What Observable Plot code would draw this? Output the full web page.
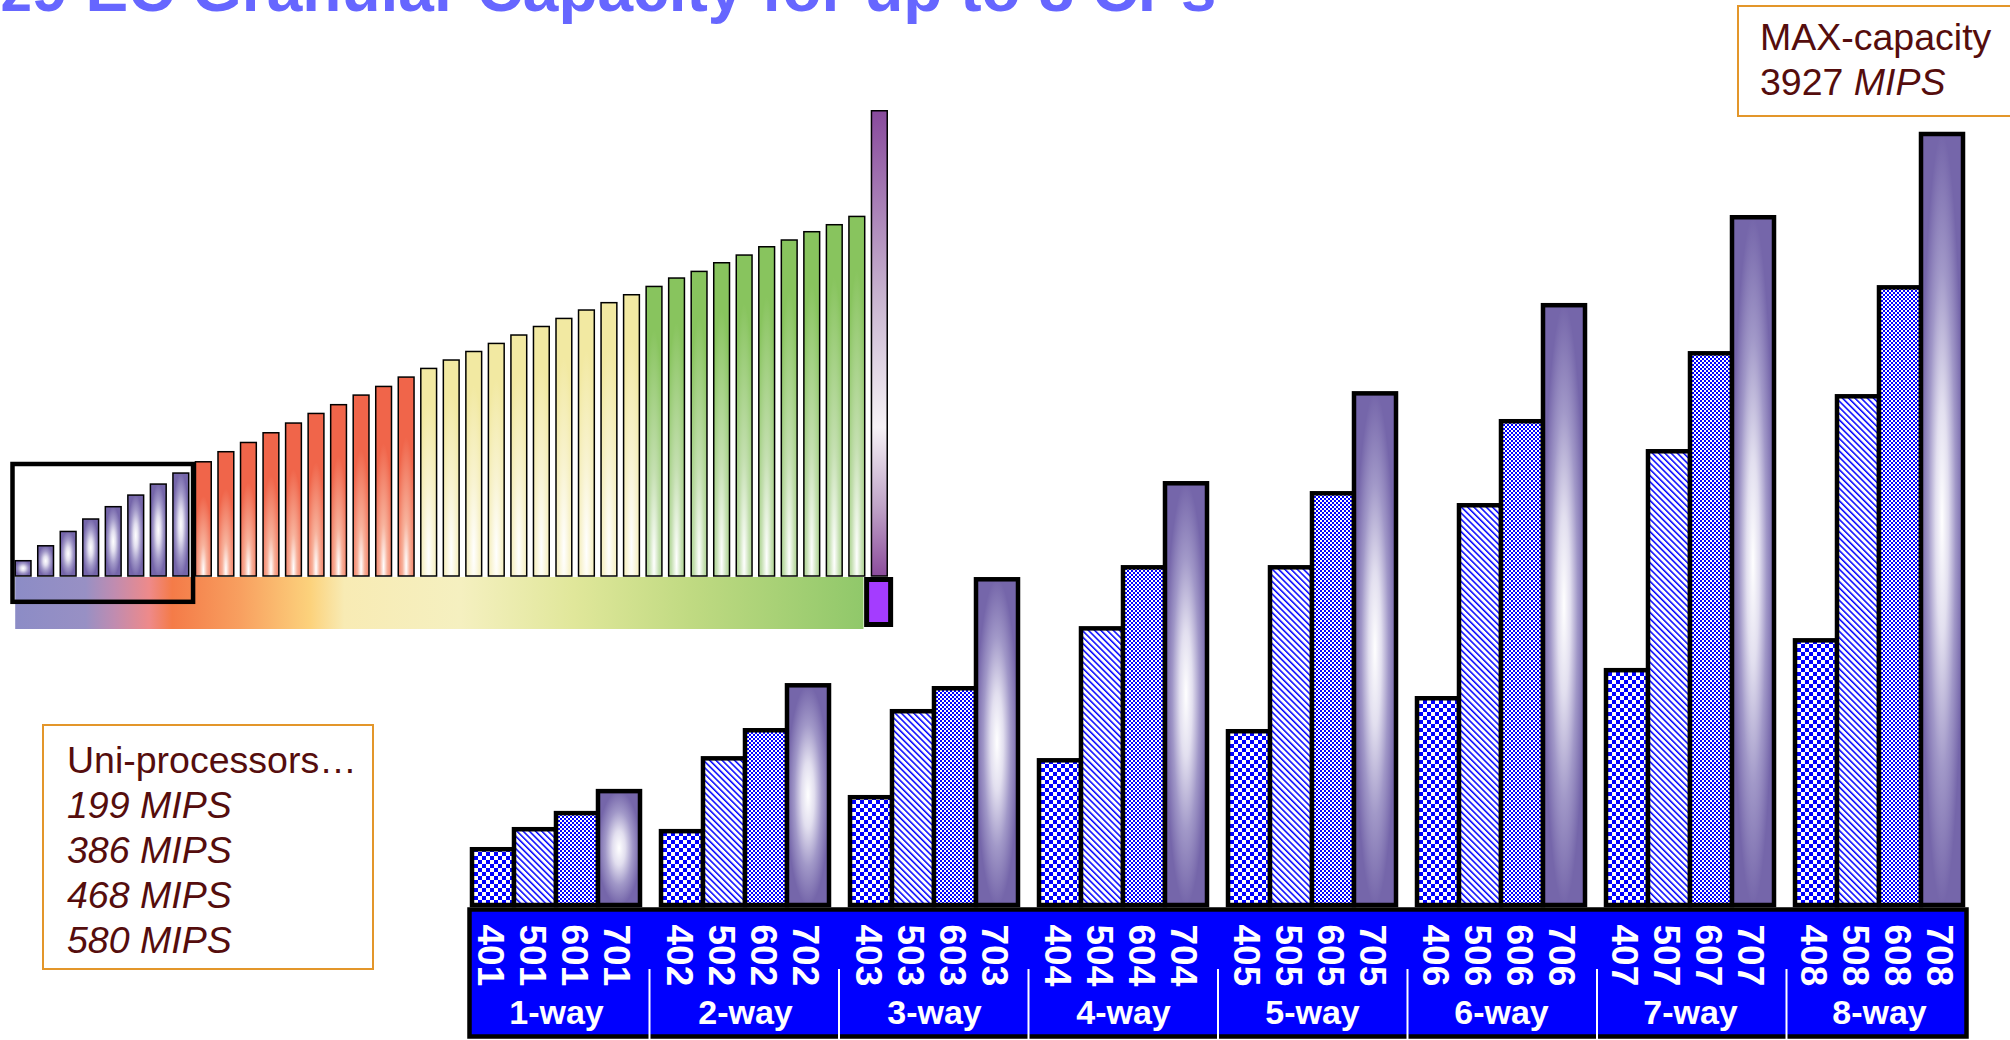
<!DOCTYPE html>
<html>
<head>
<meta charset="utf-8">
<script src="https://cdn.jsdelivr.net/npm/d3@7"></script>
<script src="https://cdn.jsdelivr.net/npm/@observablehq/plot@0.6"></script>
<style>
  html, body { margin: 0; padding: 0; background: #fff; overflow: hidden; }
  #stage { position: relative; width: 2010px; height: 1040px; overflow: hidden; background: #fff; }
  #stage > svg, #stage > .layer { position: absolute; left: 0; top: 0; }
  #title { position: absolute; left: 0; top: -43px; font: bold 64px "Liberation Sans", Arial, sans-serif; line-height: 64px; color: #6666ff; white-space: nowrap; }
  .note { position: absolute; box-sizing: border-box; background: #fff; border: 2px solid #e3962a; color: #550d0d; font: 37.5px/45px "Liberation Sans", Arial, sans-serif; white-space: nowrap; }
  .note i { font-style: italic; }
</style>
</head>
<body>
<div id="stage">
  <svg width="0" height="0" style="position:absolute">
    <defs>
      <pattern id="p4" width="8" height="8" patternUnits="userSpaceOnUse">
        <rect width="8" height="8" fill="#fff"/><rect width="4" height="4" fill="#0000ff"/><rect x="4" y="4" width="4" height="4" fill="#0000ff"/>
      </pattern>
      <pattern id="p5" width="4.4" height="4.4" patternUnits="userSpaceOnUse" patternTransform="rotate(-45)">
        <rect width="4.4" height="4.4" fill="#fff"/><rect width="1.5" height="4.4" fill="#0000ff"/>
      </pattern>
      <pattern id="p6" width="4" height="4" patternUnits="userSpaceOnUse">
        <rect width="4" height="4" fill="#fff"/><rect width="2" height="2" fill="#0000ff"/><rect x="2" y="2" width="2" height="2" fill="#0000ff"/>
      </pattern>
      <radialGradient id="g7" cx="0.5" cy="0.5" r="0.5">
        <stop offset="0" stop-color="#ffffff"/>
        <stop offset="0.3" stop-color="#e2dfef"/>
        <stop offset="0.65" stop-color="#a198c8"/>
        <stop offset="1" stop-color="#7566aa"/>
      </radialGradient>
      <radialGradient id="gO" cx="0.5" cy="0.95" r="0.65">
        <stop offset="0" stop-color="#ffffff"/>
        <stop offset="0.35" stop-color="#f7b29c"/>
        <stop offset="1" stop-color="#f0654a"/>
      </radialGradient>
      <radialGradient id="gY" cx="0.5" cy="0.9" r="0.75">
        <stop offset="0" stop-color="#ffffff"/>
        <stop offset="0.45" stop-color="#f8f3d0"/>
        <stop offset="1" stop-color="#f2e9a2"/>
      </radialGradient>
      <radialGradient id="gG" cx="0.5" cy="0.95" r="0.8">
        <stop offset="0" stop-color="#ffffff"/>
        <stop offset="0.4" stop-color="#c4dfb0"/>
        <stop offset="1" stop-color="#88c45e"/>
      </radialGradient>
      <linearGradient id="gT" x1="0" y1="0" x2="0" y2="1">
        <stop offset="0" stop-color="#884a9c"/>
        <stop offset="0.4" stop-color="#c8b4d0"/>
        <stop offset="0.68" stop-color="#f6f2f6"/>
        <stop offset="0.85" stop-color="#c0a4c8"/>
        <stop offset="1" stop-color="#8c4c9c"/>
      </linearGradient>
      <linearGradient id="gStrip" x1="0" y1="0" x2="1" y2="0">
        <stop offset="0" stop-color="#8c8cc6"/>
        <stop offset="0.083" stop-color="#9890c4"/>
        <stop offset="0.117" stop-color="#c08cb0"/>
        <stop offset="0.158" stop-color="#ee8a8a"/>
        <stop offset="0.185" stop-color="#f47b48"/>
        <stop offset="0.266" stop-color="#f8a060"/>
        <stop offset="0.348" stop-color="#fcd27c"/>
        <stop offset="0.388" stop-color="#f8ebb4"/>
        <stop offset="0.524" stop-color="#f5f0c0"/>
        <stop offset="0.659" stop-color="#e0e79a"/>
        <stop offset="0.795" stop-color="#c0da82"/>
        <stop offset="1" stop-color="#90c86a"/>
      </linearGradient>
    </defs>
  </svg>
</div>
<script>
// ---------- data ----------
const groups = ["1-way", "2-way", "3-way", "4-way", "5-way", "6-way", "7-way", "8-way"];
const series = ["4", "5", "6", "7"];
const models = [
  ["401", "501", "601", "701"],
  ["402", "502", "602", "702"],
  ["403", "503", "603", "703"],
  ["404", "504", "604", "704"],
  ["405", "505", "605", "705"],
  ["406", "506", "606", "706"],
  ["407", "507", "607", "707"],
  ["408", "508", "608", "708"]
];
const mips4xx = [284, 376, 549, 737, 885, 1053, 1196, 1348];
const mips5xx = [386, 747, 987, 1409, 1720, 2036, 2311, 2591];
const mips6xx = [468, 890, 1104, 1720, 2097, 2464, 2810, 3146];
const mips7xx = [580, 1119, 1659, 2148, 2606, 3055, 3503, 3927];
const maxMips = 3927;

// small staircase of all capacity settings
const smallTiers = [["uni", 8], ["orange", 10], ["yellow", 10], ["green", 10], ["max", 1]];
const smallValues = [
  129, 255, 376, 481, 585, 683, 776, 869,
  964, 1049, 1127, 1209, 1291, 1372, 1446, 1527, 1600, 1679,
  1752, 1823, 1895, 1963, 2034, 2106, 2174, 2245, 2307, 2374,
  2444, 2515, 2571, 2644, 2709, 2779, 2836, 2906, 2965, 3035,
  3927
];

// ---------- tables ----------
const bySeries = [mips4xx, mips5xx, mips6xx, mips7xx];
const mainData = groups.flatMap((g, gi) => series.map((s, si) => ({
  group: g, series: s, code: models[gi][si], value: bySeries[si][gi]
})));
const tierOf = smallTiers.flatMap(([t, n]) => Array(n).fill(t));
const smallData = smallValues.map((v, i) => ({i, j: i + 1, tier: tierOf[i], value: v}));

// ---------- styles ----------
const seriesFill = {"4": "url(#p4)", "5": "url(#p5)", "6": "url(#p6)", "7": "url(#g7)"};
const tierFill = {uni: "url(#g7)", orange: "url(#gO)", yellow: "url(#gY)", green: "url(#gG)", max: "url(#gT)"};
const narrow = "'Liberation Sans Narrow', 'Arial Narrow', 'Liberation Sans', Arial, sans-serif";
const W = 2010, H = 1040;
const stage = document.getElementById("stage");

// band under the bars (axis strip)
const band = Plot.plot({
  width: W, height: H,
  marginLeft: 459.5, marginRight: 34.5, marginTop: 909, marginBottom: 4,
  x: {domain: [0, groups.length], axis: null},
  style: {background: "transparent", overflow: "visible"},
  marks: [
    Plot.frame({fill: "#0000ff", stroke: "black", strokeWidth: 4.5, insetLeft: 9.5, insetRight: 9.5}),
    Plot.ruleX(d3.range(1, groups.length), {stroke: "white", strokeWidth: 2, insetTop: 60, insetBottom: -4})
  ]
});
stage.appendChild(band);

// main grouped bars
const main = Plot.plot({
  width: W, height: H,
  marginLeft: 469, marginRight: 44, marginTop: 0, marginBottom: 0,
  fx: {domain: groups, paddingInner: 0.1, paddingOuter: 0, axis: null, label: null},
  x: {domain: series, padding: 0, axis: null},
  y: {domain: [0, maxMips], range: [905, 134], axis: null},
  color: {type: "identity"},
  style: {background: "transparent", overflow: "visible"},
  marks: [
    Plot.barY(mainData, {fx: "group", x: "series", y: "value", fill: d => seriesFill[d.series], stroke: "black", strokeWidth: 4.5}),
    Plot.text(mainData, {fx: "group", x: "series", text: "code", rotate: 90, textAnchor: "start", frameAnchor: "bottom", dx: -16, dy: -116,
      fill: "white", fontWeight: "bold", fontSize: 37, fontFamily: narrow}),
    Plot.text(groups, {fx: d => d, text: d => d, frameAnchor: "bottom", dy: -17,
      fill: "white", fontWeight: "bold", fontSize: 34, fontFamily: "'Liberation Sans', Arial, sans-serif"})
  ]
});
stage.appendChild(main);

// small staircase chart
const lastGreen = smallValues.length - 1;
const uniCount = smallTiers[0][1];
const small = Plot.plot({
  width: 900, height: 640,
  marginLeft: 0, marginRight: 0, marginTop: 0, marginBottom: 0,
  x: {domain: [0, smallValues.length], range: [15.2, 894], axis: null},
  y: {domain: [0, maxMips], range: [576, 110.75], axis: null},
  color: {type: "identity"},
  style: {background: "transparent", overflow: "visible"},
  marks: [
    Plot.rect([{x1: 0, x2: lastGreen}], {x1: "x1", x2: "x2", fill: "url(#gStrip)", insetTop: 577, insetBottom: 11, insetRight: 8}),
    Plot.rectY(smallData, {x1: "i", x2: "j", y: "value", fill: d => tierFill[d.tier], stroke: "black", strokeWidth: 1.5, insetRight: 6.76}),
    Plot.rect([{x1: lastGreen, x2: smallValues.length}], {x1: "x1", x2: "x2", fill: "#a43cff", stroke: "black", strokeWidth: 5,
      insetTop: 579.5, insetBottom: 15.5, insetLeft: -4.84, insetRight: 3.37}),
    Plot.rect([{x1: 0, x2: uniCount}], {x1: "x1", x2: "x2", fill: "none", stroke: "black", strokeWidth: 4.5,
      insetTop: 464, insetBottom: 38.2, insetLeft: -2.7, insetRight: 2.4})
  ]
});
stage.appendChild(small);

// annotations and title
const uni = document.createElement("div");
uni.className = "note";
Object.assign(uni.style, {left: "42px", top: "724px", width: "332px", height: "246px", padding: "12px 0 0 23px"});
uni.innerHTML = "Uni-processors…<br><i>199 MIPS</i><br><i>386 MIPS</i><br><i>468 MIPS</i><br><i>580 MIPS</i>";
stage.appendChild(uni);

const mx = document.createElement("div");
mx.className = "note";
Object.assign(mx.style, {left: "1737px", top: "5px", width: "275px", height: "112px", padding: "8px 0 0 21px"});
mx.innerHTML = "MAX-capacity<br>3927 <i>MIPS</i>";
stage.appendChild(mx);

const title = document.createElement("div");
title.id = "title";
title.textContent = "z9 EC Granular Capacity for up to 8 CPs";
stage.appendChild(title);
</script>
</body>
</html>
